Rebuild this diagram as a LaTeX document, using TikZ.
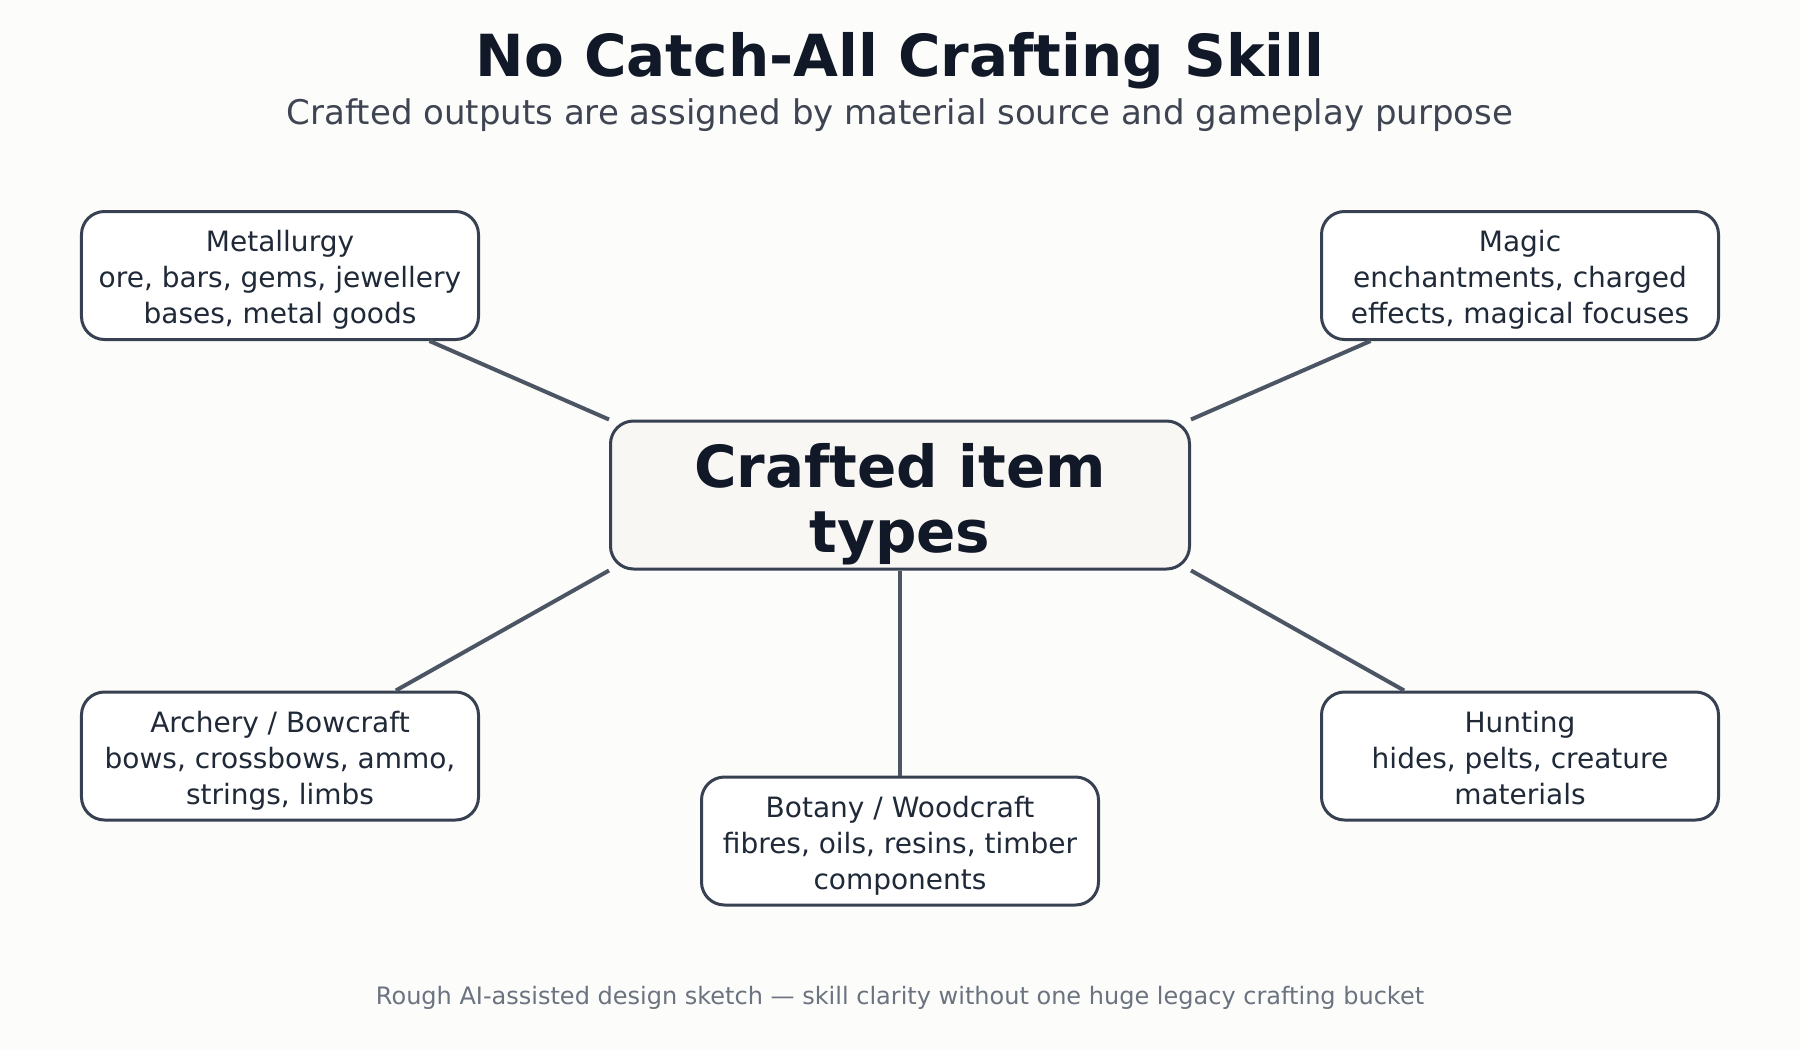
\documentclass[tikz,border=0pt]{standalone}
\usepackage{fontspec}
\setmainfont{DejaVu Sans}
\definecolor{bgc}{HTML}{FCFCFA}
\definecolor{titlec}{HTML}{111827}
\definecolor{subc}{HTML}{3F4452}
\definecolor{footc}{HTML}{6B7280}
\definecolor{borderc}{HTML}{374151}
\definecolor{linec}{HTML}{4B5563}
\definecolor{textc}{HTML}{1F2937}
\definecolor{ctrfill}{HTML}{F8F7F4}
\newcommand{\boxstrut}{\rule{0pt}{32.5bp}}
\newcommand{\boxdstrut}{\rule[-8bp]{0pt}{8bp}}
\newcommand{\hubstrut}{\rule{0pt}{62bp}}
\tikzset{
  x=1bp, y=-1bp,
  skillbox/.style={draw=borderc, line width=3bp, rounded corners=23bp, fill=white,
    minimum width=397bp, minimum height=128bp, inner sep=0pt, align=center,
    text=textc, font=\fontsize{28bp}{36bp}\selectfont},
  hubbox/.style={draw=borderc, line width=3bp, rounded corners=23bp, fill=ctrfill,
    minimum width=579bp, minimum height=148bp, inner sep=0pt, align=center,
    text=titlec, font=\bfseries\fontsize{58bp}{65bp}\selectfont},
  spoke/.style={draw=linec, line width=4bp},
}
\begin{document}
\begin{tikzpicture}
\path[fill=bgc] (0,0) rectangle (1800,1050);
\useasboundingbox (0,0) rectangle (1800,1050);
\node[anchor=base, text=titlec, font=\bfseries\fontsize{58bp}{64bp}\selectfont] (title) at (900,76) {No Catch-All Crafting Skill};
\node[anchor=base, text=subc, font=\fontsize{34bp}{40bp}\selectfont] (sub) at (900,124) {Crafted outputs are assigned by material source and gameplay purpose};
\node[hubbox] (ctr) at (900,495) {\hubstrut Crafted item\\types};
\node[skillbox] (met) at (280,275.5) {\boxstrut Metallurgy\\ore, bars, gems, jewellery\\bases, metal goods\boxdstrut};
\node[skillbox] (mag) at (1520,275.5) {\boxstrut Magic\\enchantments, charged\\effects, magical focuses\boxdstrut};
\node[skillbox] (arc) at (280,756) {\boxstrut Archery / Bowcraft\\bows, crossbows, ammo,\\strings, limbs\boxdstrut};
\node[skillbox] (hun) at (1520,756) {\boxstrut Hunting\\hides, pelts, creature\\materials\boxdstrut};
\node[skillbox] (bot) at (900,841) {\boxstrut Botany / Woodcraft\\fibres, oils, resins, timber\\components\boxdstrut};
\draw[spoke] (met) -- (ctr.north west);
\draw[spoke] (mag) -- (ctr.north east);
\draw[spoke] (arc) -- (ctr.south west);
\draw[spoke] (hun) -- (ctr.south east);
\draw[spoke] (ctr.south) -- (bot.north);
\node[anchor=base, text=footc, font=\fontsize{24bp}{28bp}\selectfont] (foot) at (900,1004) {Rough AI-assisted design sketch — skill clarity without one huge legacy crafting bucket};
\end{tikzpicture}
\end{document}
